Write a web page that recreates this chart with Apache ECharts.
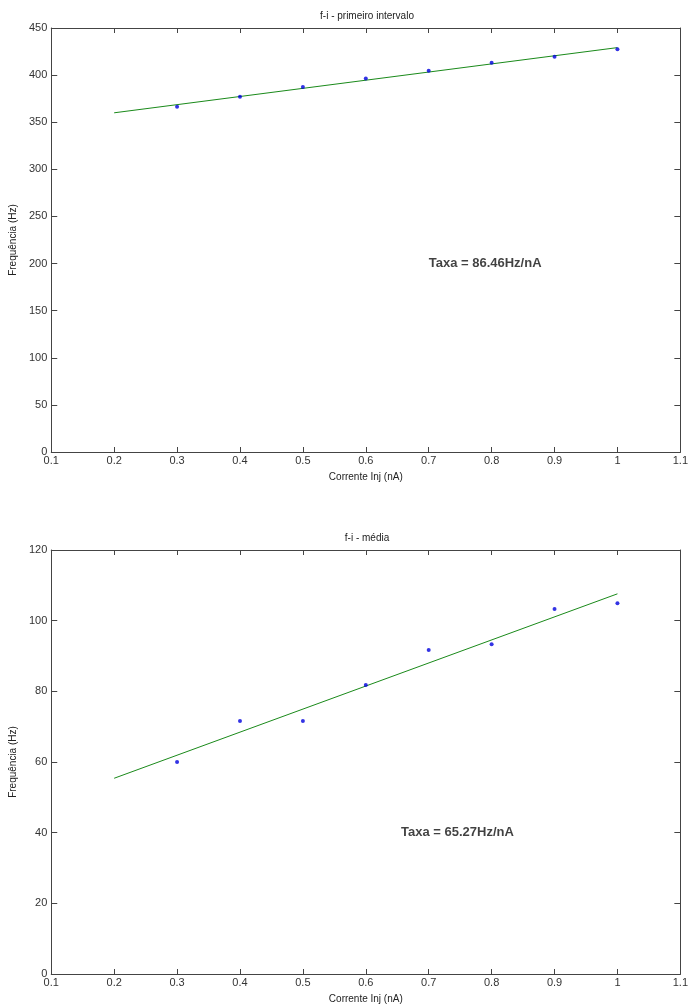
<!DOCTYPE html>
<html>
<head>
<meta charset="utf-8">
<script src="https://cdn.jsdelivr.net/npm/echarts@6/dist/echarts.min.js"></script>
<style>
  html, body { margin: 0; padding: 0; background: #fff; overflow: hidden; }
  #main { width: 691px; height: 1005px; }
</style>
</head>
<body>
<div id="main"></div>
<script>
// dados
const current = [0.3, 0.4, 0.5, 0.6, 0.7, 0.8, 0.9, 1.0];
const freqFirst = [366.4, 377.0, 387.5, 396.5, 404.5, 413.0, 419.6, 427.4];
const freqMean = [60.0, 71.6, 71.6, 81.8, 91.7, 93.3, 103.3, 104.9];
const fitX = [0.2, 1.0];
const fitFirst = [360.0, 429.2];
const fitMean = [55.4, 107.6];
const titles = ['f-i - primeiro intervalo', 'f-i - média'];
const rateLabels = ['Taxa = 86.46Hz/nA', 'Taxa = 65.27Hz/nA'];
const ratePos = [[0.7, 200], [0.656, 40]];
const yMax = [450, 120];
const yStep = [50, 20];

const font = 'Liberation Sans, Arial, sans-serif';
const axisColor = '#444';
const fmt = v => String(Math.round(v * 10) / 10);

function xAx(grid, top) {
  return {
    type: 'value', gridIndex: grid, position: top ? 'top' : 'bottom',
    min: 0.1, max: 1.1, interval: 0.1,
    name: top ? '' : 'Corrente Inj (nA)',
    nameLocation: 'middle', nameGap: 20,
    nameTextStyle: { fontFamily: font, fontSize: 10, color: '#222' },
    axisLine: { show: true, onZero: false, lineStyle: { color: axisColor, width: 1 } },
    axisTick: { show: true, inside: true, length: 5, lineStyle: { color: axisColor } },
    axisLabel: { show: !top, fontFamily: font, fontSize: 11, color: '#333', margin: 3, formatter: fmt },
    splitLine: { show: false }
  };
}

function yAx(grid, right) {
  return {
    type: 'value', gridIndex: grid, position: right ? 'right' : 'left',
    min: 0, max: yMax[grid], interval: yStep[grid],
    name: right ? '' : 'Frequência (Hz)',
    nameLocation: 'middle', nameGap: 22,
    nameTextStyle: { fontFamily: font, fontSize: 10, color: '#222' },
    axisLine: { show: true, onZero: false, lineStyle: { color: axisColor, width: 1 } },
    axisTick: { show: true, inside: true, length: 6, lineStyle: { color: axisColor } },
    axisLabel: { show: !right, fontFamily: font, fontSize: 11, color: '#333', margin: 4 },
    splitLine: { show: false }
  };
}

const dataSets = [freqFirst, freqMean];
const fits = [fitFirst, fitMean];
const series = [];
[0, 1].forEach(i => {
  series.push({
    type: 'line', xAxisIndex: i * 2, yAxisIndex: i * 2,
    data: fitX.map((x, k) => [x, fits[i][k]]),
    showSymbol: false, symbol: 'none',
    lineStyle: { color: '#1a8a1a', width: 1 },
    silent: true, z: 2
  });
  series.push({
    type: 'scatter', xAxisIndex: i * 2, yAxisIndex: i * 2,
    data: current.map((x, k) => [x, dataSets[i][k]]),
    symbol: 'circle', symbolSize: 4,
    itemStyle: { color: '#0000dd' },
    z: 3
  });
  series.push({
    type: 'scatter', xAxisIndex: i * 2, yAxisIndex: i * 2,
    data: [ratePos[i]],
    symbolSize: 0,
    label: {
      show: true, position: 'right', distance: 0,
      formatter: rateLabels[i],
      fontFamily: font, fontSize: 13, fontWeight: 'bold', color: '#111'
    },
    silent: true
  });
});

const option = {
  animation: false,
  backgroundColor: '#fff',
  title: [
    { text: titles[0], left: 367, top: 11, padding: 0, textAlign: 'center',
      textStyle: { fontFamily: font, fontSize: 10, fontWeight: 'normal', color: '#222' } },
    { text: titles[1], left: 367, top: 533, padding: 0, textAlign: 'center',
      textStyle: { fontFamily: font, fontSize: 10, fontWeight: 'normal', color: '#222' } }
  ],
  grid: [
    { left: 50, top: 28, right: 6, height: 424, containLabel: false },
    { left: 50, top: 550, right: 6, height: 424, containLabel: false }
  ],
  xAxis: [xAx(0, false), xAx(0, true), xAx(1, false), xAx(1, true)],
  yAxis: [yAx(0, false), yAx(0, true), yAx(1, false), yAx(1, true)],
  series: series
};

const chart = echarts.init(document.getElementById('main'), null, { renderer: 'canvas' });
chart.setOption(option);
</script>
</body>
</html>
